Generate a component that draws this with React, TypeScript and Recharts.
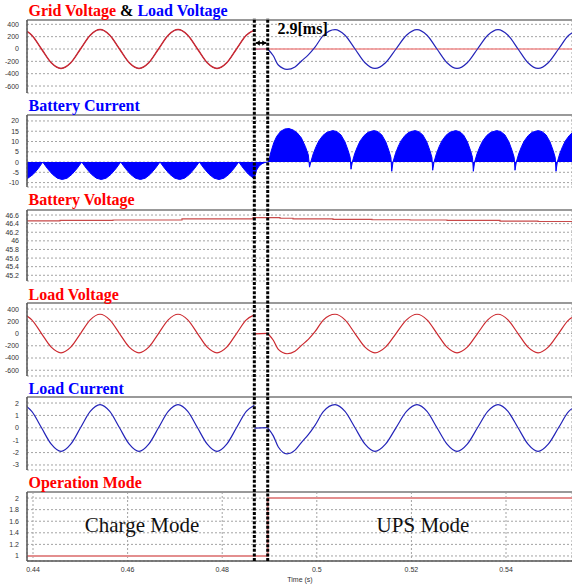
import React from 'react';
import { ComposedChart, LineChart, Line, Area, XAxis, YAxis, CartesianGrid, ReferenceLine } from 'recharts';

// ---------- axes ----------
const X_DOMAIN: [number, number] = [0.43873, 0.55395];
const X_TICKS = [0.44, 0.46, 0.48, 0.5, 0.52, 0.54];
const FAULT_T = 0.48679;
const UPS_T = 0.48962;

const VOLT_TICKS = [400, 200, 0, -200, -400, -600];
const BATT_I_TICKS = [20, 15, 10, 5, 0, -5, -10];
const BATT_V_TICKS = [46.6, 46.4, 46.2, 46, 45.8, 45.6, 45.4, 45.2];
const LOAD_I_TICKS = [2, 1, 0, -1, -2, -3];
const MODE_TICKS = [2, 1.8, 1.6, 1.4, 1.2, 1];

// ---------- grid / load before the fault ----------
const preT = [0.43873, 0.43974, 0.4418, 0.44386, 0.44592, 0.44798, 0.45004, 0.4521, 0.45417, 0.45623, 0.45829, 0.46035, 0.46241, 0.46447, 0.46653, 0.46859, 0.47066, 0.47272, 0.47478, 0.47684, 0.4789, 0.48096, 0.48302, 0.48509, 0.48679];
const preVoltage = [285, 223, 0, -223, -315, -223, 0, 223, 315, 223, 0, -223, -315, -223, 0, 223, 315, 223, 0, -223, -315, -223, 0, 223, 305];
const preCurrent = [1.7, 1.32, 0, -1.32, -1.9, -1.32, 0, 1.32, 1.87, 1.32, 0, -1.32, -1.9, -1.32, 0, 1.32, 1.87, 1.32, 0, -1.32, -1.9, -1.32, 0, 1.32, 1.82];

// ---------- transfer gap ----------
const gapT = [0.48679, 0.48962];
const gapVoltage = [-6, 4];
const gapCurrent = [-0.03, 0.02];

// ---------- UPS mode (inverter) ----------
const postT = [0.48962, 0.4908, 0.49186, 0.4937, 0.49539, 0.49681, 0.4982, 0.49962, 0.50137, 0.50385,
  0.50596, 0.50808, 0.51019, 0.5123, 0.51452, 0.51674, 0.51896, 0.52118, 0.5233, 0.52541,
  0.52753, 0.52964, 0.53181, 0.53397, 0.53614, 0.53831, 0.54042, 0.54254, 0.54465, 0.54677,
  0.54893, 0.5511, 0.55327, 0.55395];
const postVoltage = [0, -110, -260, -330, -290, -190, -95, 30, 220, 315,
  223, 0, -223, -315, -223, 0, 223, 315, 223, 0,
  -223, -315, -223, 0, 223, 315, 223, 0, -223, -315,
  -223, 0, 223, 260];
const postCurrent = [0, -0.65, -1.55, -2.1, -1.8, -1.15, -0.55, 0.2, 1.3, 1.87,
  1.32, 0, -1.32, -1.9, -1.32, 0, 1.32, 1.87, 1.32, 0,
  -1.32, -1.9, -1.32, 0, 1.32, 1.87, 1.32, 0, -1.32, -1.9,
  -1.32, 0, 1.32, 1.55];

// grid voltage after the outage
const gridOffT = [0.48679, 0.55395];
const gridOffV = [0, 0];

// ---------- battery current ----------
const chargeT = [0.43873, 0.43894, 0.44004, 0.44108, 0.44205,
  0.44308, 0.44411, 0.44514, 0.44617, 0.44721, 0.44823, 0.44927, 0.4503,
  0.45133, 0.45236, 0.45339, 0.45442, 0.45545, 0.45648, 0.45751, 0.45854,
  0.45958, 0.46062, 0.46166, 0.4627, 0.46373, 0.46477, 0.46581, 0.46685,
  0.46789, 0.46893, 0.46997, 0.471, 0.47204, 0.47308, 0.47412, 0.47516,
  0.4762, 0.47724, 0.47828, 0.47932, 0.48037, 0.48141, 0.48245, 0.48349,
  0.48453, 0.48556, 0.4866, 0.48679,
  0.48725, 0.48778, 0.48842, 0.48905, 0.48962];
const chargeI = [-8.1, -7.85, -6.0, -3.25, 0,
  -3.25, -6, -7.85, -8.5, -7.85, -6, -3.25, 0,
  -3.25, -6, -7.85, -8.5, -7.85, -6, -3.25, 0,
  -3.25, -6, -7.85, -8.5, -7.85, -6, -3.25, 0,
  -3.25, -6, -7.85, -8.5, -7.85, -6, -3.25, 0,
  -3.25, -6, -7.85, -8.5, -7.85, -6, -3.25, 0,
  -3.25, -6, -7.85, -8.0,
  -4, -2, -0.8, -0.2, 0];
const upsT = [0.48979, 0.49031, 0.49092, 0.49152, 0.49239, 0.49326, 0.49412, 0.49499, 0.49586, 0.49672, 0.49759, 0.4982, 0.49846,
  0.49873, 0.49924, 0.49984, 0.50043, 0.50128, 0.50213, 0.50341, 0.50426, 0.50511, 0.50596, 0.50664, 0.50706, 0.50723,
  0.50751, 0.508, 0.50859, 0.50917, 0.51, 0.51084, 0.51209, 0.51292, 0.51375, 0.51459, 0.51525, 0.51567, 0.51584,
  0.51611, 0.51661, 0.5172, 0.51779, 0.51863, 0.51947, 0.52073, 0.52157, 0.52241, 0.52325, 0.52392, 0.52434, 0.5245,
  0.52478, 0.52528, 0.52586, 0.52644, 0.52727, 0.5281, 0.52935, 0.53018, 0.53101, 0.53184, 0.53251, 0.53292, 0.53309,
  0.53336, 0.53387, 0.53447, 0.53507, 0.53592, 0.53678, 0.53806, 0.53891, 0.53977, 0.54062, 0.5413, 0.54173, 0.5419,
  0.54218, 0.54268, 0.54327, 0.54386, 0.5447, 0.54553, 0.54679, 0.54763, 0.54847, 0.54931, 0.54998, 0.5504, 0.55057,
  0.55085, 0.55135, 0.55195, 0.55254, 0.55338, 0.55395];
const upsI = [0, 5, 9.5, 12.5, 15, 16.1, 16.3, 15.6, 14.2, 11.8, 7.5, 3.5, -2.5,
  0, 4, 7.5, 10.3, 12.9, 14.5, 15.3, 14.8, 13.2, 9.8, 5.5, 2.2, -3.5,
  0, 4, 7.5, 10.3, 12.9, 14.5, 15.3, 14.8, 13.2, 9.8, 5.5, 2.2, -4.5,
  0, 4, 7.5, 10.3, 12.9, 14.5, 15.3, 14.8, 13.2, 9.8, 5.5, 2.2, -4,
  0, 4, 7.5, 10.3, 12.9, 14.5, 15.3, 14.8, 13.2, 9.8, 5.5, 2.2, -4.5,
  0, 4, 7.5, 10.3, 12.9, 14.5, 15.3, 14.8, 13.2, 9.8, 5.5, 2.2, -4,
  0, 4, 7.5, 10.3, 12.9, 14.5, 15.3, 14.8, 13.2, 9.8, 5.5, 2.2, -4.5,
  0, 4, 7.5, 10.3, 12.9, 14.1];

// ---------- battery voltage ----------
const battVT = [0.43873, 0.44571, 0.45691, 0.4715, 0.48651, 0.49222, 0.49497, 0.50342, 0.51167, 0.5197, 0.52753, 0.53873, 0.54677, 0.55395];
const battV = [46.465, 46.475, 46.485, 46.51, 46.54, 46.525, 46.51, 46.5, 46.49, 46.485, 46.475, 46.46, 46.45, 46.45];

// ---------- operation mode ----------
const modeT = [0.43873, 0.48962, 0.55395];
const modeV = [1, 2, 2];

const zip = (t: number[], v: number[]) => t.map((x, i) => ({ t: x, v: v[i] }));

const preV = zip(preT, preVoltage);
const preI = zip(preT, preCurrent);
const gapV = zip(gapT, gapVoltage);
const gapI = zip(gapT, gapCurrent);
const postV = zip(postT, postVoltage);
const postI = zip(postT, postCurrent);
const gridOff = zip(gridOffT, gridOffV);
const battI = zip([...chargeT, ...upsT], [...chargeI, ...upsI]);
const battVData = zip(battVT, battV);
const modeData = zip(modeT, modeV);

const W = 572;
const RED = '#cc2a30';
const BLUE = '#2424b8';
const TICK_STYLE = { fontSize: 7, fill: '#333', fontFamily: '"Liberation Sans", Arial, sans-serif' };

type PanelProps = {
  top: number;
  height: number;
  yDomain: [number, number];
  yTicks: number[];
  data?: any[];
  showX?: boolean;
  children?: React.ReactNode;
};

function Panel({ top, height, yDomain, yTicks, data, showX = false, children }: PanelProps) {
  const mt = 2;
  const xh = showX ? 24 : 0;
  const mb = showX ? 0 : 2;
  return (
    <div style={{ position: 'absolute', left: 0, top: top - mt }}>
      <ComposedChart width={W} height={mt + height + xh + mb} data={data} margin={{ top: mt, right: 0, bottom: mb, left: 0 }}>
        <CartesianGrid stroke="#a3a3a3" strokeDasharray="2 2" />
        <XAxis
          type="number"
          dataKey="t"
          domain={X_DOMAIN}
          ticks={X_TICKS}
          allowDataOverflow
          interval={0}
          height={xh}
          axisLine={{ stroke: '#555', strokeWidth: 1.5 }}
          tickLine={false}
          tickSize={6}
          tickMargin={0}
          tick={showX ? TICK_STYLE : false}
        />
        <YAxis
          type="number"
          domain={yDomain}
          ticks={yTicks}
          allowDataOverflow
          interval={0}
          width={27}
          axisLine={{ stroke: '#555', strokeWidth: 1.5 }}
          tickLine={false}
          tick={TICK_STYLE}
        />
        <ReferenceLine y={yDomain[1]} stroke="#999" strokeWidth={2} ifOverflow="visible" />
        {children}
      </ComposedChart>
    </div>
  );
}

const ArrowShape = (props: any) => {
  const { x1, y1, x2 } = props;
  const a = Number(x1) + 1.5;
  const b = Number(x2) - 1.5;
  const y = Number(y1);
  return (
    <g>
      <line x1={a} y1={y} x2={b} y2={y} stroke="#000" strokeWidth={1.8} />
      <path d={`M${a} ${y} L${a + 4} ${y - 2.8} L${a + 4} ${y + 2.8} Z`} fill="#000" />
      <path d={`M${b} ${y} L${b - 4} ${y - 2.8} L${b - 4} ${y + 2.8} Z`} fill="#000" />
    </g>
  );
};

const titleBase: React.CSSProperties = {
  position: 'absolute',
  left: 28.5,
  fontFamily: '"Liberation Serif", "Times New Roman", serif',
  fontWeight: 700,
  fontSize: 16,
  lineHeight: '16px',
  whiteSpace: 'nowrap',
};

const modeText: React.CSSProperties = {
  position: 'absolute',
  fontFamily: '"Liberation Serif", "Times New Roman", serif',
  fontSize: 21,
  lineHeight: '21px',
  whiteSpace: 'nowrap',
  color: '#111',
  transform: 'translateX(-50%)',
};

const ARROW_Y = 0.954;

export default function App() {
  return (
    <div style={{ position: 'absolute', left: 0, top: 0, width: W, height: 585, background: '#fff', overflow: 'hidden' }}>
      {/* Panel 1: grid & load voltage */}
      <Panel top={20} height={73} yDomain={[-713, 470]} yTicks={VOLT_TICKS}>
        <Line data={preV} dataKey="v" type="monotone" stroke={BLUE} strokeWidth={0.8} dot={false} isAnimationActive={false} />
        <Line data={gapV} dataKey="v" type="linear" stroke={BLUE} strokeWidth={1.2} dot={false} isAnimationActive={false} />
        <Line data={gridOff} dataKey="v" type="linear" stroke="#f08c8c" strokeWidth={1.5} dot={false} isAnimationActive={false} />
        <Line data={postV} dataKey="v" type="monotone" stroke={BLUE} strokeWidth={1.2} dot={false} isAnimationActive={false} />
        <Line data={preV} dataKey="v" type="monotone" stroke={RED} strokeWidth={1.5} dot={false} isAnimationActive={false} />
      </Panel>

      {/* Panel 2: battery current */}
      <Panel top={115} height={72} yDomain={[-12.15, 22.9]} yTicks={BATT_I_TICKS} data={battI}>
        <Area dataKey="v" type="linear" baseValue={0} stroke="#0000ff" strokeWidth={1} fill="#0000ff" fillOpacity={1} isAnimationActive={false} />
      </Panel>

      {/* Panel 3: battery voltage */}
      <Panel top={210} height={71} yDomain={[45.067, 46.717]} yTicks={BATT_V_TICKS} data={battVData}>
        <Line dataKey="v" type="stepAfter" stroke="#c84a4a" strokeWidth={1.2} dot={false} isAnimationActive={false} />
      </Panel>

      {/* Panel 4: load voltage */}
      <Panel top={303} height={73} yDomain={[-694, 499]} yTicks={VOLT_TICKS}>
        <Line data={preV} dataKey="v" type="monotone" stroke={RED} strokeWidth={1.2} dot={false} isAnimationActive={false} />
        <Line data={gapV} dataKey="v" type="linear" stroke={RED} strokeWidth={1.2} dot={false} isAnimationActive={false} />
        <Line data={postV} dataKey="v" type="monotone" stroke={RED} strokeWidth={1.2} dot={false} isAnimationActive={false} />
      </Panel>

      {/* Panel 5: load current */}
      <Panel top={397} height={73} yDomain={[-3.405, 2.486]} yTicks={LOAD_I_TICKS}>
        <Line data={preI} dataKey="v" type="monotone" stroke={BLUE} strokeWidth={1.2} dot={false} isAnimationActive={false} />
        <Line data={gapI} dataKey="v" type="linear" stroke={BLUE} strokeWidth={1.2} dot={false} isAnimationActive={false} />
        <Line data={postI} dataKey="v" type="monotone" stroke={BLUE} strokeWidth={1.2} dot={false} isAnimationActive={false} />
      </Panel>

      {/* Panel 6: operation mode */}
      <Panel top={492} height={69} yDomain={[0.913, 2.105]} yTicks={MODE_TICKS} data={modeData} showX>
        <Line dataKey="v" type="stepAfter" stroke="#e38e8e" strokeWidth={2} dot={false} isAnimationActive={false} />
      </Panel>

      {/* Titles */}
      <div style={{ ...titleBase, top: 3.3 }}>
        <span style={{ color: '#ff0000' }}>Grid Voltage</span>
        <span style={{ color: '#000' }}> &amp; </span>
        <span style={{ color: '#0000ff' }}>Load Voltage</span>
      </div>
      <div style={{ ...titleBase, top: 97.6, color: '#0000ff' }}>Battery Current</div>
      <div style={{ ...titleBase, top: 191.6, color: '#ff0000' }}>Battery Voltage</div>
      <div style={{ ...titleBase, top: 286.6, color: '#ff0000' }}>Load Voltage</div>
      <div style={{ ...titleBase, top: 380.6, color: '#0000ff' }}>Load Current</div>
      <div style={{ ...titleBase, top: 474.9, color: '#ff0000' }}>Operation Mode</div>

      <div style={{ ...modeText, left: 142, top: 515.4 }}>Charge Mode</div>
      <div style={{ ...modeText, left: 423, top: 515.4 }}>UPS Mode</div>

      <div style={{ position: 'absolute', left: 300, top: 575.5, transform: 'translateX(-50%)', fontFamily: '"Liberation Sans", Arial, sans-serif', fontSize: 7, lineHeight: '7px', color: '#333', whiteSpace: 'nowrap' }}>
        Time (s)
      </div>

      {/* Overlay: transfer markers */}
      <div style={{ position: 'absolute', left: 0, top: 0, pointerEvents: 'none' }}>
        <LineChart width={W} height={585} data={modeData} margin={{ top: 18, right: 0, bottom: 24, left: 27 }}>
          <XAxis type="number" dataKey="t" domain={X_DOMAIN} allowDataOverflow hide />
          <YAxis type="number" domain={[0, 1]} allowDataOverflow hide />
          <ReferenceLine x={FAULT_T} stroke="#000" strokeWidth={3} strokeDasharray="3 1.6" ifOverflow="visible" />
          <ReferenceLine x={UPS_T} stroke="#000" strokeWidth={3} strokeDasharray="3 1.6" ifOverflow="visible" />
          <ReferenceLine segment={[{ x: FAULT_T, y: ARROW_Y }, { x: UPS_T, y: ARROW_Y }]} shape={ArrowShape} ifOverflow="visible" />
        </LineChart>
      </div>

      <div style={{ ...titleBase, left: 277.5, top: 20.9, color: '#000' }}>2.9[ms]</div>
    </div>
  );
}
